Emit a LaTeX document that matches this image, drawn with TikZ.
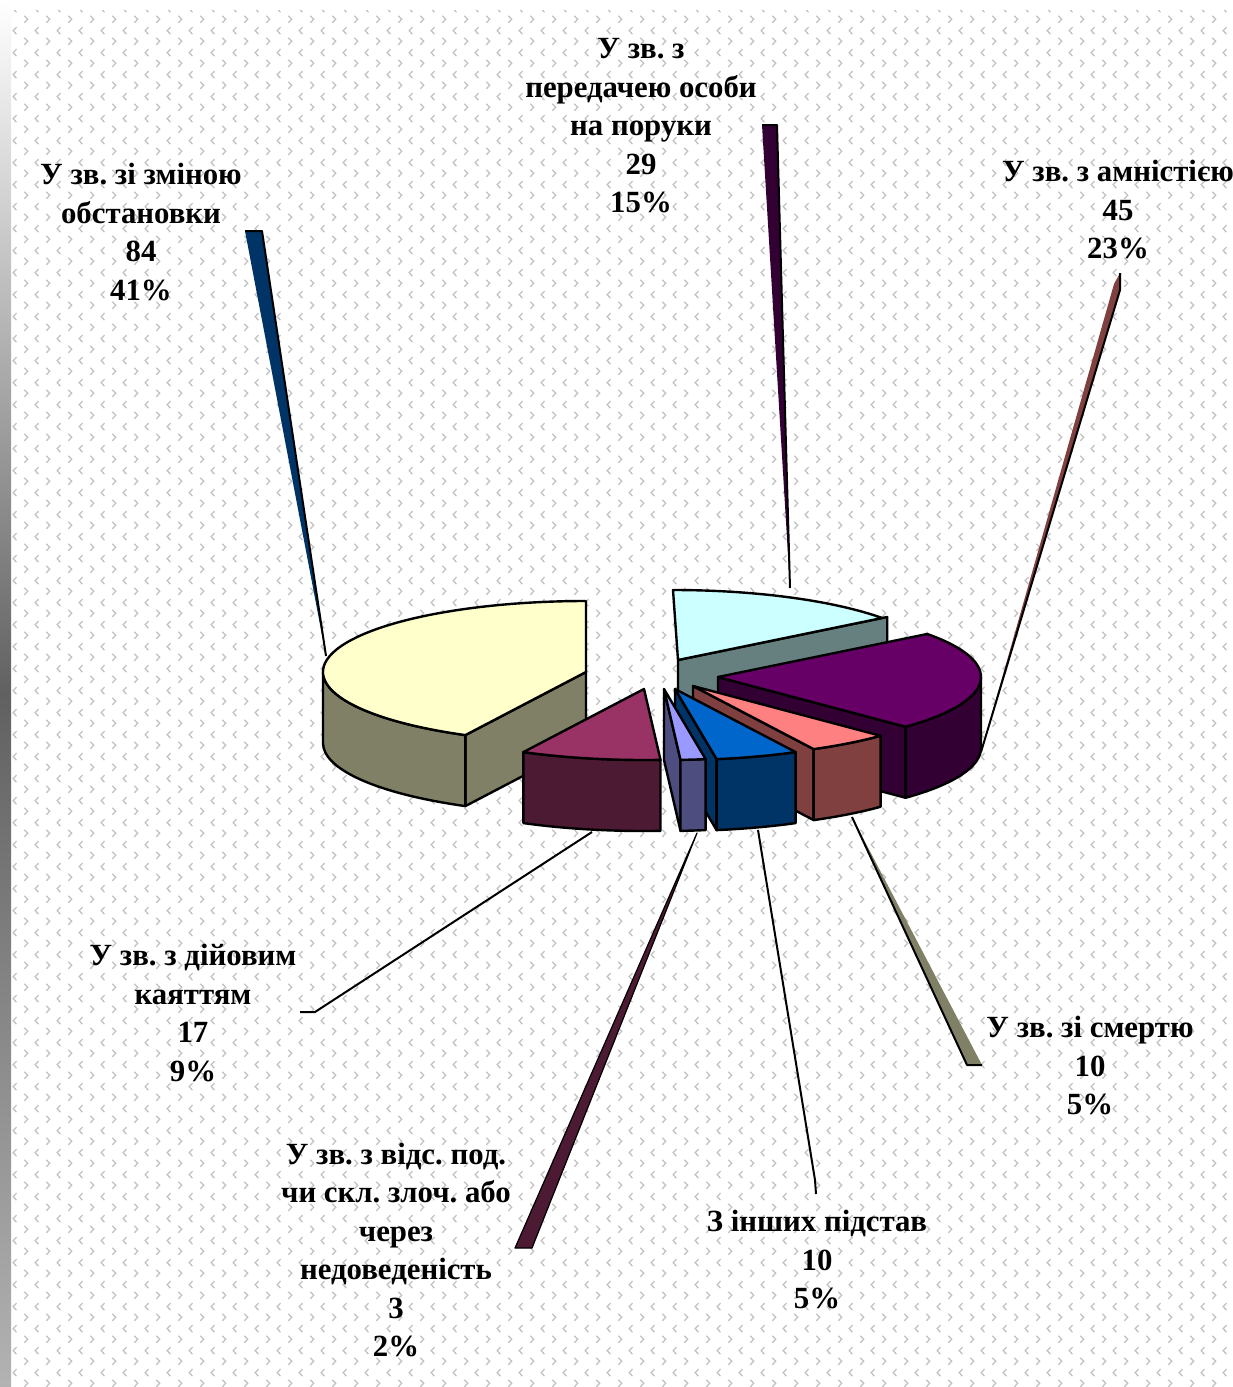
\documentclass[tikz,border=0pt]{standalone}
\usepackage{fontspec}
\setmainfont{Liberation Serif}
\usepackage{xcolor}
\usepackage{tikz}
\usetikzlibrary{patterns}
\frenchspacing

\definecolor{cyantop}{HTML}{CCFFFF}
\definecolor{cyanside}{HTML}{668080}
\definecolor{purptop}{HTML}{660066}
\definecolor{purpside}{HTML}{330033}
\definecolor{salmtop}{HTML}{FF8080}
\definecolor{salmside}{HTML}{804040}
\definecolor{bluetop}{HTML}{0066CC}
\definecolor{blueside}{HTML}{003366}
\definecolor{lavtop}{HTML}{9999FF}
\definecolor{lavside}{HTML}{4D4D80}
\definecolor{martop}{HTML}{993366}
\definecolor{marside}{HTML}{4D1A33}
\definecolor{yeltop}{HTML}{FFFFCC}
\definecolor{yelside}{HTML}{808066}

\pgfdeclarepatternformonly{chevrons}{\pgfqpoint{0pt}{0pt}}{\pgfqpoint{10.8pt}{10.8pt}}{\pgfqpoint{10.8pt}{10.8pt}}{
  \pgfsetlinewidth{0.65pt}
  \pgfpathmoveto{\pgfqpoint{1.2pt}{4.2pt}}
  \pgfpathlineto{\pgfqpoint{2.9pt}{2.4pt}}
  \pgfpathlineto{\pgfqpoint{1.2pt}{0.6pt}}
  \pgfpathmoveto{\pgfqpoint{8.4pt}{9.6pt}}
  \pgfpathlineto{\pgfqpoint{6.7pt}{7.8pt}}
  \pgfpathlineto{\pgfqpoint{8.4pt}{6.0pt}}
  \pgfusepath{stroke}
}

\begin{document}
\begin{tikzpicture}[x=0.5pt, y=-0.5pt,
    part/.style={draw=black, line width=1.2pt, line join=round},
    ell/.style={x radius=263, y radius=71},
    leader/.style={draw=black, line width=1pt, line join=round}]
    \useasboundingbox (0,0) rectangle (1232,1387);
    \fill[white] (0,0) rectangle (1232,1387);
    \fill[pattern=chevrons, pattern color=black!24] (11,10) rectangle (1232,1387);
    \shade[top color=white, bottom color=black!30, middle color=black!62] (0,0) rectangle (11,1387);

    \coordinate (cyanC) at (678,660);
    \coordinate (purpC) at (718,677);
    \coordinate (yelC) at (586,672);
    \coordinate (salmC) at (693,686);
    \coordinate (blueC) at (675,689);
    \coordinate (marC) at (644,689);
    \coordinate (lavC) at (664,689);

    \filldraw[part, fill=cyanside] (cyanC) ++(0,71) -- ++(-37.3:263 and 71) -- ++(0,-71) -- (cyanC) -- cycle;
    \filldraw[part, fill=cyantop] (cyanC) -- (673,590) arc[ell, start angle=-90, end angle=-37.3] -- cycle;

    \filldraw[part, fill=purpside] (purpC) ++(0,71) -- ++(44.5:263 and 71) -- ++(0,-71) -- (purpC) -- cycle;
    \filldraw[part, fill=purpside] (purpC) ++(0:263 and 71) arc[ell, start angle=0, end angle=44.5] -- ++(0,71) arc[ell, start angle=44.5, end angle=0] -- cycle;
    \filldraw[part, fill=purptop] (purpC) -- ++(-37.3:263 and 71) arc[ell, start angle=-37.3, end angle=44.5] -- cycle;

    \filldraw[part, fill=yelside] (yelC) ++(0,71) -- ++(117.3:263 and 71) -- ++(0,-71) -- (yelC) -- cycle;
    \filldraw[part, fill=yelside] (yelC) ++(117.3:263 and 71) arc[ell, start angle=117.3, end angle=180] -- ++(0,71) arc[ell, start angle=180, end angle=117.3] -- cycle;
    \filldraw[part, fill=yeltop] (yelC) -- ++(117.3:263 and 71) arc[ell, start angle=117.3, end angle=270] -- cycle;

    \filldraw[part, fill=salmside] (salmC) ++(0,71) -- ++(62.7:263 and 71) -- ++(0,-71) -- (salmC) -- cycle;
    \filldraw[part, fill=salmside] (salmC) ++(44.5:263 and 71) arc[ell, start angle=44.5, end angle=62.7] -- ++(0,71) arc[ell, start angle=62.7, end angle=44.5] -- cycle;
    \filldraw[part, fill=salmtop] (salmC) -- ++(44.5:263 and 71) arc[ell, start angle=44.5, end angle=62.7] -- cycle;

    \filldraw[part, fill=blueside] (blueC) ++(0,71) -- ++(80.9:263 and 71) -- ++(0,-71) -- (blueC) -- cycle;
    \filldraw[part, fill=blueside] (blueC) ++(62.7:263 and 71) arc[ell, start angle=62.7, end angle=80.9] -- ++(0,71) arc[ell, start angle=80.9, end angle=62.7] -- cycle;
    \filldraw[part, fill=bluetop] (blueC) -- ++(62.7:263 and 71) arc[ell, start angle=62.7, end angle=80.9] -- cycle;

    \filldraw[part, fill=marside] (marC) ++(86.4:263 and 71) arc[ell, start angle=86.4, end angle=117.3] -- ++(0,71) arc[ell, start angle=117.3, end angle=86.4] -- cycle;
    \filldraw[part, fill=martop] (marC) -- ++(86.4:263 and 71) arc[ell, start angle=86.4, end angle=117.3] -- cycle;

    \filldraw[part, fill=lavside] (lavC) ++(0,71) -- ++(86.4:263 and 71) -- ++(0,-71) -- (lavC) -- cycle;
    \filldraw[part, fill=lavside] (lavC) ++(80.9:263 and 71) arc[ell, start angle=80.9, end angle=86.4] -- ++(0,71) arc[ell, start angle=86.4, end angle=80.9] -- cycle;
    \filldraw[part, fill=lavtop] (lavC) -- ++(80.9:263 and 71) arc[ell, start angle=80.9, end angle=86.4] -- cycle;

    \coordinate (obstA) at (245,231);
    \coordinate (obstB) at (262,231);
    \coordinate (obstC) at (326,656);
    \coordinate (porA) at (762,125);
    \coordinate (porB) at (777,125);
    \coordinate (porC) at (790,588);
    \coordinate (amnA) at (1120,273);
    \coordinate (amnB) at (1120,290);
    \coordinate (amnC) at (981,752);
    \coordinate (smA) at (852,817);
    \coordinate (smB) at (967,1065);
    \coordinate (smC) at (982,1065);
    \coordinate (inA) at (758,830);
    \coordinate (inB) at (815,1180);
    \coordinate (inC) at (816,1194);
    \coordinate (vidA) at (697,833);
    \coordinate (vidB) at (532,1248);
    \coordinate (vidC) at (515,1248);
    \coordinate (kayA) at (592,832);
    \coordinate (kayB) at (315,1012);
    \coordinate (kayC) at (300,1012);

    \fill[blueside] (obstA) -- (obstB) -- (obstC) -- cycle;
    \draw[leader] (obstA) -- (obstB) -- (obstC);
    \fill[purpside] (porA) -- (porB) -- (porC) -- cycle;
    \draw[leader] (porA) -- (porB) -- (porC);
    \fill[salmside] (amnA) -- (amnB) -- (amnC) -- (1114,284) -- cycle;
    \draw[leader] (amnA) -- (amnB) -- (amnC);
    \fill[yelside] (smA) -- (smB) -- (smC) -- cycle;
    \draw[leader] (smA) -- (smB) -- (smC);
    \draw[leader] (inA) -- (inB) -- (inC);
    \filldraw[leader, line width=0.6pt, fill=marside] (vidA) -- (vidB) -- (vidC) -- cycle;
    \draw[leader] (kayA) -- (kayB) -- (kayC);

    \begin{scope}[every node/.style={font=\bfseries\fontsize{15.4}{19.25}\selectfont, align=center, inner sep=0pt}]
        \node (lblObst) at (141,232) {У зв. зі зміною\\обстановки\\84\\41\%};
        \node (lblPor) at (641,126) {У зв. з\\передачею особи\\на поруки\\29\\15\%};
        \node (lblAmn) at (1118,210) {У зв. з амністією\\45\\23\%};
        \node (lblKay) at (193,1013) {У зв. з дійовим\\каяттям\\17\\9\%};
        \node (lblSm) at (1090,1066) {У зв. зі смертю\\10\\5\%};
        \node (lblVid) at (396,1250) {У зв. з відс. под.\\чи скл. злоч. або\\через\\недоведеність\\3\\2\%};
        \node (lblIn) at (817,1260) {З інших підстав\\10\\5\%};
    \end{scope}
\end{tikzpicture}
\end{document}
